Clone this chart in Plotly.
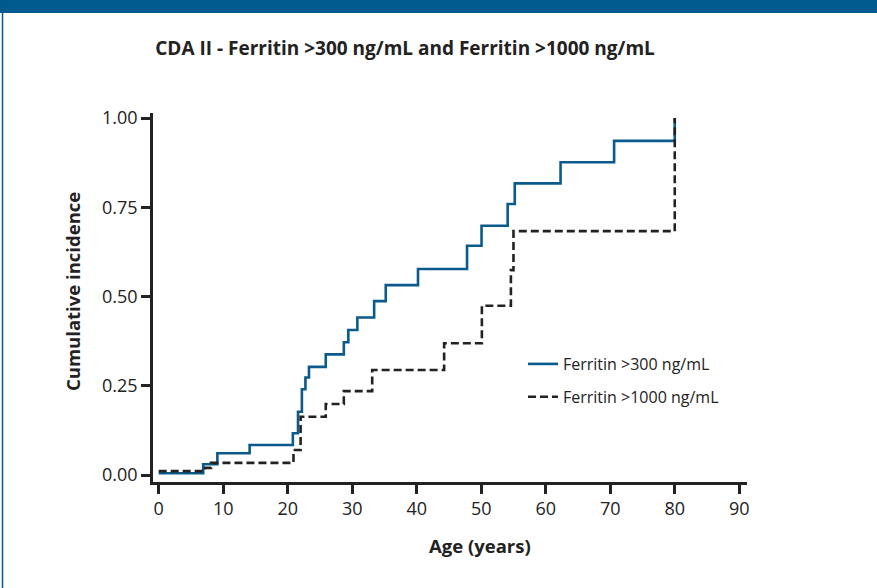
import plotly.graph_objects as go

# ---- data ----
ferr300_age = [0, 6.9, 9.1, 14.1, 20.8, 21.6, 22.2, 22.75, 23.3, 25.9, 28.7, 29.4, 30.8,
               33.4, 35.2, 40.2, 47.8, 50.05, 54.1, 55.2, 62.3, 70.6, 80.0]
ferr300_ci = [0.005, 0.030, 0.061, 0.084, 0.117, 0.177, 0.240, 0.273, 0.303, 0.338, 0.372,
              0.406, 0.441, 0.487, 0.532, 0.577, 0.642, 0.698, 0.759, 0.817, 0.876, 0.936, 1.0]

ferr1000_age = [0, 7.2, 8.1, 20.9, 22.0, 25.9, 28.7, 33.1, 44.25, 50.1, 54.6, 55.0, 80.0]
ferr1000_ci = [0.011, 0.020, 0.034, 0.070, 0.163, 0.199, 0.235, 0.294, 0.369, 0.474,
               0.574, 0.683, 1.0]

x_ticks = [0, 10, 20, 30, 40, 50, 60, 70, 80, 90]
y_ticks = [0, 0.25, 0.5, 0.75, 1.0]
y_tick_text = ["0.00", "0.25", "0.50", "0.75", "1.00"]

series_names = ["Ferritin >300 ng/mL", "Ferritin >1000 ng/mL"]
title_text = "CDA II - Ferritin >300 ng/mL and Ferritin >1000 ng/mL"
x_title = "Age (years)"
y_title = "Cumulative incidence"

BLUE = "#0a5b8c"
DARK = "#222222"
FONT = "Open Sans, Lato, sans-serif"

W, H = 877, 588
L, R, T, B = 153, 130, 113, 106
PW, PH = W - L - R, H - T - B


def px2px(x):
    return (x - L) / PW


def py2py(y):
    return (H - B - y) / PH


fig = go.Figure()
fig.add_trace(go.Scatter(
    x=ferr300_age, y=ferr300_ci, mode="lines", line_shape="hv",
    line=dict(color=BLUE, width=2.6), name=series_names[0], legendgroup="a"))
fig.add_trace(go.Scatter(
    x=ferr1000_age, y=ferr1000_ci, mode="lines", line_shape="hv",
    line=dict(color=DARK, width=2.6, dash="8px,4px"), name=series_names[1], legendgroup="b"))

axis_common = dict(
    showline=True, linewidth=2.5, linecolor=DARK, showgrid=False, zeroline=False,
    ticks="outside", ticklen=9, tickwidth=2.5, tickcolor=DARK,
    tickfont=dict(family=FONT, size=18, color=DARK),
)

fig.update_layout(
    width=W, height=H,
    margin=dict(l=L, r=R, t=T, b=B),
    paper_bgcolor="white", plot_bgcolor="white",
    showlegend=True,
    legend=dict(
        x=px2px(523), y=py2py(347), xanchor="left", yanchor="top",
        font=dict(family=FONT, size=16, color=DARK),
        bgcolor="rgba(0,0,0,0)", traceorder="grouped", tracegroupgap=9,
    ),
    xaxis=dict(range=[-0.88, 91.2], tickvals=x_ticks, **axis_common),
    yaxis=dict(range=[-0.0196, 1.014], tickvals=y_ticks, ticktext=y_tick_text, **axis_common),
    title=dict(text="<b>" + title_text + "</b>", x=405 / W, xanchor="center",
               y=1 - 48 / H, yanchor="middle", xref="container",
               font=dict(family=FONT, size=19, color=DARK)),
    annotations=[
        dict(text="<b>" + x_title + "</b>", xref="paper", yref="paper",
             x=px2px(480), y=py2py(545), xanchor="center", yanchor="middle",
             showarrow=False, font=dict(family=FONT, size=18.5, color=DARK)),
        dict(text="<b>" + y_title + "</b>", xref="paper", yref="paper",
             x=px2px(72), y=py2py(292), xanchor="center", yanchor="middle",
             textangle=-90, showarrow=False, font=dict(family=FONT, size=18.5, color=DARK)),
    ],
    shapes=[
        dict(type="rect", xref="paper", yref="paper",
             x0=px2px(0), x1=px2px(W), y0=py2py(13), y1=py2py(0),
             fillcolor="#005a8e", line=dict(width=0), layer="above"),
        dict(type="line", xref="paper", yref="paper",
             x0=px2px(2.5), x1=px2px(2.5), y0=py2py(H), y1=py2py(0),
             line=dict(color="#005a8e", width=1.5)),
    ],
)

fig.write_html("out.html", config={"displayModeBar": False},
               post_script="document.body.style.margin='0';document.body.style.overflow='hidden';")
